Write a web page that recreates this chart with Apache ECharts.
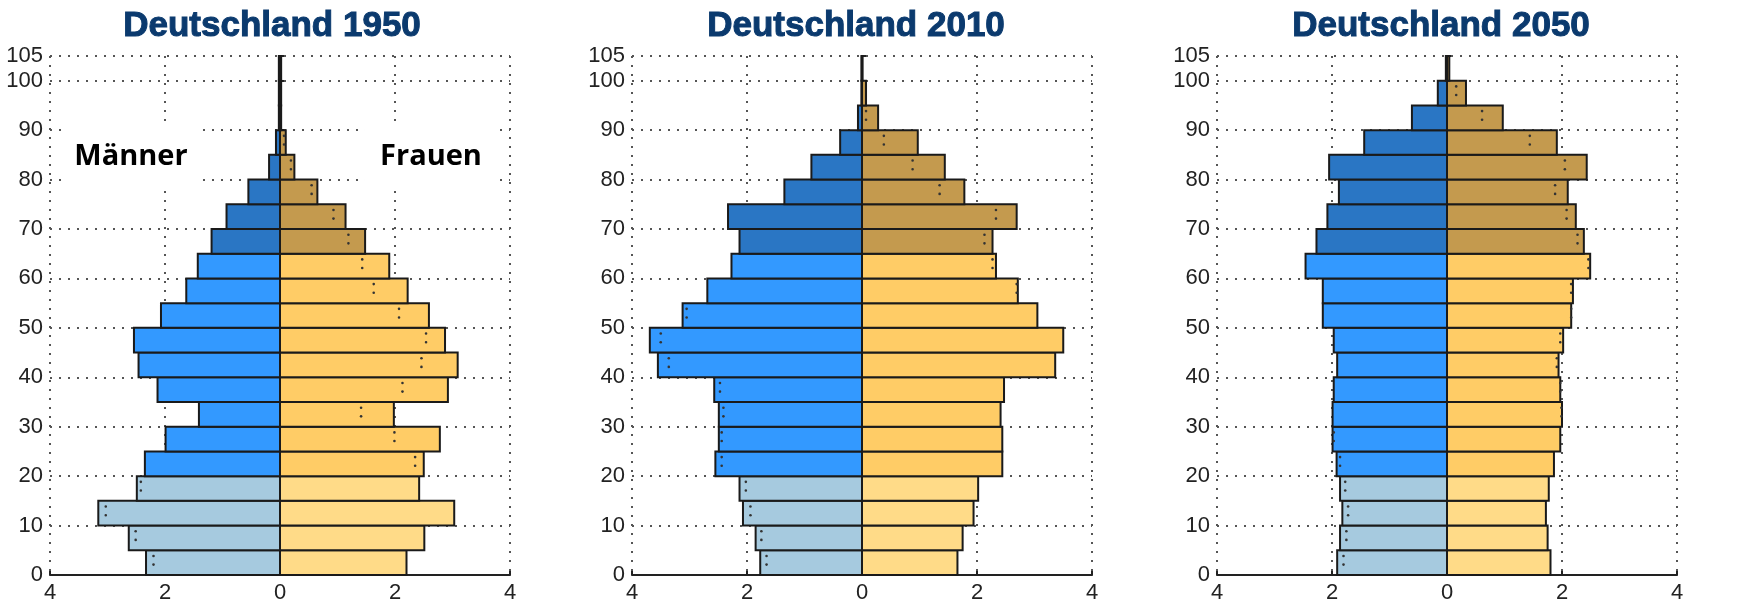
<!DOCTYPE html>
<html>
<head>
<meta charset="utf-8">
<script src="https://cdn.jsdelivr.net/npm/echarts@6/dist/echarts.min.js"></script>
<style>
  html, body { margin: 0; padding: 0; background: #fff; }
  #chart { width: 1737px; height: 604px; }
</style>
</head>
<body>
<div id="chart"></div>
<script>
// Altersgruppen (Untergrenze, 5-Jahres-Schritte)
var ages = [0, 5, 10, 15, 20, 25, 30, 35, 40, 45, 50, 55, 60, 65, 70, 75, 80, 85, 90, 95, 100];
var years = ['1950', '2010', '2050'];

var male1950   = [2.33, 2.63, 3.16, 2.49, 2.35, 1.99, 1.41, 2.13, 2.46, 2.54, 2.07, 1.63, 1.43, 1.19, 0.93, 0.55, 0.19, 0.07, 0.02, 0.02, 0.02];
var female1950 = [2.20, 2.51, 3.03, 2.42, 2.50, 2.78, 1.98, 2.92, 3.09, 2.87, 2.59, 2.22, 1.90, 1.48, 1.14, 0.65, 0.25, 0.10, 0.02, 0.02, 0.02];
var male2010   = [1.77, 1.85, 2.07, 2.13, 2.55, 2.49, 2.49, 2.57, 3.55, 3.69, 3.12, 2.69, 2.27, 2.13, 2.33, 1.35, 0.88, 0.38, 0.07, 0.01, 0.01];
var female2010 = [1.66, 1.75, 1.94, 2.02, 2.44, 2.44, 2.41, 2.47, 3.36, 3.50, 3.05, 2.71, 2.33, 2.27, 2.69, 1.78, 1.44, 0.97, 0.28, 0.07, 0.01];
var male2050   = [1.91, 1.86, 1.82, 1.86, 1.92, 1.99, 1.99, 1.97, 1.91, 1.97, 2.16, 2.16, 2.46, 2.27, 2.08, 1.88, 2.05, 1.44, 0.61, 0.16, 0.02];
var female2050 = [1.80, 1.75, 1.72, 1.77, 1.86, 1.97, 2.00, 1.97, 1.94, 2.02, 2.16, 2.19, 2.49, 2.38, 2.24, 2.10, 2.43, 1.91, 0.97, 0.33, 0.04];

var males = [male1950, male2010, male2050];
var females = [female1950, female2010, female2050];

var colMale = ['#a6cadf', '#3399ff', '#2a76c4'];
var colFemale = ['#ffdb88', '#ffcc66', '#c49a4e'];

var gridLeft = [50, 632, 1217];
var titleX = [272, 856, 1441];

function group(age) {
    if (age < 20) return 0;
    if (age < 65) return 1;
    return 2;
}

var myChart = echarts.init(document.getElementById('chart'));

var grids = [], xAxes = [], yAxes = [], series = [], graphics = [];
var dotted = { color: '#555', width: 2, type: [2, 7] };

for (var i = 0; i < 3; i++) {
    grids.push({ left: gridLeft[i], top: 56, width: 460, height: 521 });
    xAxes.push({
        type: 'value', gridIndex: i, min: -4, max: 4, interval: 2,
        axisLine: { show: true, lineStyle: { color: '#222', width: 2.2 } },
        axisTick: { show: true, inside: true, length: 4, lineStyle: { color: '#222', width: 2 } },
        axisLabel: {
            margin: 7, color: '#222', fontSize: 22, fontFamily: 'Liberation Sans',
            formatter: function (v) { return Math.abs(v); }
        },
        splitLine: { show: true, lineStyle: dotted }
    });
    yAxes.push({
        type: 'value', gridIndex: i, min: 0, max: 105, interval: 10,
        axisLine: { show: true, lineStyle: { color: '#222', width: 2.2 } },
        axisTick: { show: true, inside: true, length: 4, lineStyle: { color: '#222', width: 2 } },
        axisLabel: { margin: 7, color: '#222', fontSize: 22, fontFamily: 'Liberation Sans' },
        splitLine: { show: true, lineStyle: dotted }
    });

    var bars = [], dots = [];
    for (var k = 0; k < ages.length; k++) {
        var m = males[i][k], f = females[i][k];
        bars.push([-m, ages[k], group(ages[k]), 0]);
        bars.push([f, ages[k], group(ages[k]), 1]);
        var lo = Math.min(m, f);
        if (lo > 0.05) {
            dots.push([m > f ? -lo : lo, ages[k]]);
        }
    }

    series.push({
        type: 'custom', xAxisIndex: i, yAxisIndex: i, z: 3,
        data: bars,
        renderItem: function (params, api) {
            var p0 = api.coord([0, api.value(1)]);
            var p1 = api.coord([api.value(0), api.value(1) + 5]);
            var g = api.value(2);
            return {
                type: 'rect',
                shape: {
                    x: Math.min(p0[0], p1[0]), y: p1[1],
                    width: Math.abs(p1[0] - p0[0]), height: p0[1] - p1[1]
                },
                style: {
                    fill: api.value(3) === 0 ? colMale[g] : colFemale[g],
                    stroke: '#1a1a1a', lineWidth: 2
                }
            };
        }
    });
    series.push({
        type: 'custom', xAxisIndex: i, yAxisIndex: i, z: 4,
        data: dots,
        renderItem: function (params, api) {
            var a = api.coord([api.value(0), api.value(1) + 2.1]);
            var b = api.coord([api.value(0), api.value(1) + 3.85]);
            return {
                type: 'group',
                children: [
                    { type: 'circle', shape: { cx: a[0], cy: a[1], r: 1.3 }, style: { fill: '#333' } },
                    { type: 'circle', shape: { cx: b[0], cy: b[1], r: 1.3 }, style: { fill: '#333' } }
                ]
            };
        }
    });

    graphics.push({
        type: 'text', x: titleX[i], y: 26,
        style: {
            text: 'Deutschland ' + years[i],
            font: 'bold 35px "Liberation Sans"', fill: '#0b3a6e',
            stroke: '#0b3a6e', lineWidth: 1,
            textAlign: 'center', textVerticalAlign: 'middle', align: 'center', verticalAlign: 'middle'
        }
    });
}

// Beschriftungen Männer / Frauen mit weißem Hintergrund
[['Männer', 131, 157, 63, 123, 137], ['Frauen', 431, 157, 365, 121, 135]].forEach(function (t) {
    graphics.push({
        type: 'rect', x: t[3], y: t[4], z: 1,
        shape: { x: 0, y: 0, width: t[5], height: 65 },
        style: { fill: '#fff' }
    });
    graphics.push({
        type: 'text', x: t[1], y: t[2], z: 2,
        style: {
            text: t[0], font: 'bold 29px "Open Sans"', fill: '#000',
            textAlign: 'center', textVerticalAlign: 'middle', align: 'center', verticalAlign: 'middle'
        }
    });
});

var option = {
    animation: false,
    backgroundColor: '#fff',
    grid: grids,
    xAxis: xAxes,
    yAxis: yAxes,
    series: series,
    graphic: graphics
};
myChart.setOption(option);
</script>
</body>
</html>
